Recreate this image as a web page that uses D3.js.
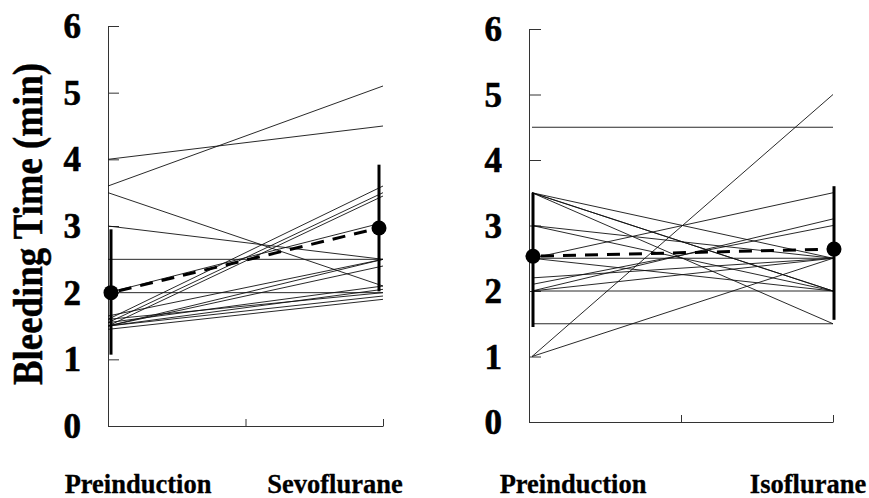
<!DOCTYPE html>
<meta charset="utf-8">
<style>
body { margin: 0; background: #fff; }
svg { display: block; }
.axis path, .axis line { fill: none; stroke: #333; stroke-width: 1; }
.num { font: bold 35px "Liberation Serif", "Times New Roman", serif; fill: #000; stroke: #000; stroke-width: 0.6; }
.cat { font: bold 26.5px "Liberation Serif", "Times New Roman", serif; fill: #000; stroke: #000; stroke-width: 0.3; }
.ytitle { font: bold 42px "Liberation Serif", "Times New Roman", serif; fill: #000; stroke: #000; stroke-width: 0.5; }
.subj { fill: none; stroke: #111; stroke-width: 0.9; }
</style>
<body>
<script src="https://d3js.org/d3.v7.min.js"></script>
<script>

// tick labels and group names
var yTicks = [0, 1, 2, 3, 4, 5, 6];
var leftCats = ["Preinduction", "Sevoflurane"];
var rightCats = ["Preinduction", "Isoflurane"];

// individual patients, sevoflurane group (min)
var sevoPre  = [3.6, 4.0, 3.5, 3.0, 2.5, 2.0, 2.0, 1.6, 1.55, 1.5, 1.5, 1.5, 1.55, 1.5, 1.6, 1.45, 1.5, 1.65];
var sevoPost = [5.1, 4.5, 2.1, 2.5, 2.5, 2.0, 3.05, 3.6, 3.5, 3.45, 2.5, 2.4, 2.1, 2.05, 2.0, 1.9, 1.95, 2.5];

// individual patients, isoflurane group (min)
var isoPre  = [4.5, 1.0, 1.0, 3.5, 3.5, 3.5, 3.5, 3.0, 3.0, 2.5, 2.5, 2.5, 2.1, 2.0, 2.0, 2.0, 1.5, 2.2];
var isoPost = [4.5, 5.0, 2.5, 2.5, 2.0, 1.5, 2.0, 2.5, 2.0, 3.5, 2.0, 2.5, 3.0, 3.1, 2.0, 2.5, 1.5, 2.5];

// group mean and error bar ends
var sevoMean = [2.0, 2.97];
var sevoLow  = [1.07, 2.02];
var sevoHigh = [2.95, 3.92];
var isoMean = [2.53, 2.64];
var isoLow  = [1.45, 1.56];
var isoHigh = [3.5, 3.6];

var width = 869, height = 498;

var svg = d3.select("body").append("svg")
    .attr("width", width)
    .attr("height", height);

function panel(opt) {
  var y = d3.scaleLinear().domain([0, 6]).range([opt.yBot, opt.yTop]);
  var x = d3.scaleLinear().domain([0, 2]).range([opt.x0, opt.x1]);
  var g = svg.append("g");

  // y axis, ticks pointing inward
  g.append("g")
    .attr("class", "axis")
    .attr("transform", "translate(" + opt.x0 + ",0)")
    .call(d3.axisRight(y).tickValues(yTicks).tickSizeInner(opt.tick).tickSizeOuter(0).tickFormat(""));

  // x axis, ticks pointing up
  g.append("g")
    .attr("class", "axis")
    .attr("transform", "translate(0," + opt.yBot + ")")
    .call(d3.axisTop(x).tickValues([1, 2]).tickSizeInner(7).tickSizeOuter(0).tickFormat(""));

  g.selectAll(".num")
    .data(yTicks)
    .enter().append("text")
      .attr("class", "num")
      .attr("x", opt.labelX)
      .attr("y", function(d) { return y(d) + 12; })
      .attr("text-anchor", "end")
      .text(function(d) { return d; });

  // patient lines
  g.selectAll(".subj")
    .data(d3.zip(opt.pre, opt.post))
    .enter().append("line")
      .attr("class", "subj")
      .attr("x1", x(0) + opt.padL)
      .attr("x2", x(2))
      .attr("y1", function(d) { return y(d[0]); })
      .attr("y2", function(d) { return y(d[1]); });

  var mx = [x(0) + opt.meanL, x(2) + opt.meanR];

  // error bars
  g.selectAll(".err")
    .data([0, 1])
    .enter().append("line")
      .attr("x1", function(i) { return mx[i]; })
      .attr("x2", function(i) { return mx[i]; })
      .attr("y1", function(i) { return y(opt.low[i]); })
      .attr("y2", function(i) { return y(opt.high[i]); })
      .attr("stroke", "#000")
      .attr("stroke-width", 3);

  // mean dashed line
  g.append("line")
    .attr("x1", mx[0]).attr("x2", mx[1])
    .attr("y1", y(opt.mean[0])).attr("y2", y(opt.mean[1]))
    .attr("stroke", "#000")
    .attr("stroke-width", 3)
    .attr("stroke-dasharray", "13,9")
    .attr("stroke-dashoffset", -8);

  g.selectAll(".dot")
    .data([0, 1])
    .enter().append("circle")
      .attr("cx", function(i) { return mx[i]; })
      .attr("cy", function(i) { return y(opt.mean[i]); })
      .attr("r", 7.5)
      .attr("fill", "#000");

  // category labels
  g.selectAll(".cat")
    .data(opt.cats)
    .enter().append("text")
      .attr("class", "cat")
      .attr("x", function(d, i) { return opt.catX[i]; })
      .attr("y", 493)
      .attr("text-anchor", "middle")
      .text(function(d) { return d; });
}

panel({x0: 108, x1: 383, yTop: 26, yBot: 426, tick: 11, labelX: 81, padL: 0,
       meanL: 3, meanR: -4, pre: sevoPre, post: sevoPost,
       mean: sevoMean, low: sevoLow, high: sevoHigh,
       cats: leftCats, catX: [138, 335]});

panel({x0: 529, x1: 833, yTop: 29, yBot: 422, tick: 12, labelX: 502, padL: 3,
       meanL: 4, meanR: 1, pre: isoPre, post: isoPost,
       mean: isoMean, low: isoLow, high: isoHigh,
       cats: rightCats, catX: [573, 808]});

// shared y title
svg.append("text")
  .attr("class", "ytitle")
  .attr("transform", "translate(42,224) rotate(-90)")
  .attr("text-anchor", "middle")
  .attr("textLength", 322)
  .attr("lengthAdjust", "spacingAndGlyphs")
  .text("Bleeding Time (min)");

</script>
</body>
